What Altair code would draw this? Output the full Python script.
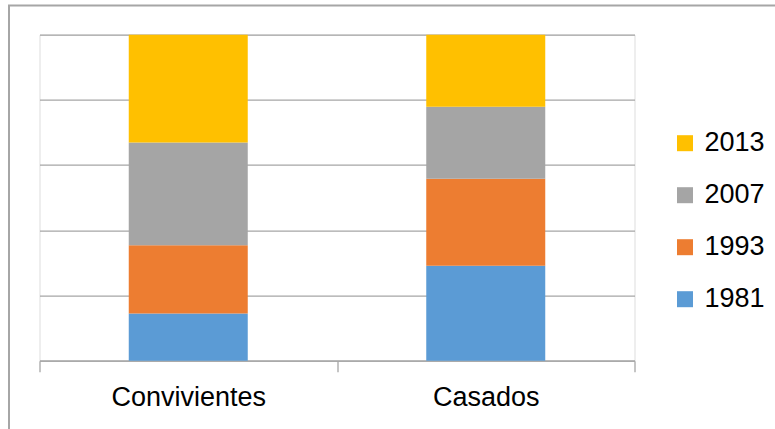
import altair as alt
import pandas as pd

categories = ["Convivientes", "Casados"]
years = ["1981", "1993", "2007", "2013"]
convivientes = [14.5, 20.9, 31.5, 33.1]
casados = [29.1, 26.7, 22.1, 22.1]
colors = {"2013": "#FFC000", "2007": "#A5A5A5", "1993": "#ED7D31", "1981": "#5B9BD5"}

rows = []
for cat, vals in zip(categories, [convivientes, casados]):
    for i, (yr, v) in enumerate(zip(years, vals)):
        rows.append({"grupo": cat, "anio": yr, "valor": v, "orden": i})
df = pd.DataFrame(rows)

legend_order = ["2013", "2007", "1993", "1981"]
FONT = "Liberation Sans"

bars = alt.Chart(df).mark_bar(width=alt.RelativeBandSize(0.4)).encode(
    x=alt.X("grupo:N", sort=categories, title=None,
            scale=alt.Scale(paddingInner=0, paddingOuter=0),
            axis=alt.Axis(tickBand="extent", labelAngle=0, labelFont=FONT,
                          labelFontSize=27, labelColor="#000000",
                          domainColor="#a6a6a6", domainWidth=1.3,
                          tickColor="#a6a6a6", tickWidth=1.3, tickSize=11,
                          labelPadding=13, grid=False)),
    y=alt.Y("valor:Q", stack="normalize", title=None,
            scale=alt.Scale(domain=[0, 1], nice=False),
            axis=alt.Axis(values=[0, 0.2, 0.4, 0.6, 0.8, 1.0], labels=False,
                          ticks=False, domain=False, grid=True,
                          gridColor="#a6a6a6", gridWidth=1.3)),
    color=alt.Color("anio:N",
                    scale=alt.Scale(domain=legend_order,
                                    range=[colors[y] for y in legend_order]),
                    legend=alt.Legend(title=None, orient="none",
                                      legendX=632, legendY=95,
                                      symbolType="square", symbolSize=256,
                                      symbolStrokeWidth=0,
                                      labelFont=FONT, labelFontSize=27,
                                      labelColor="#000000", labelOffset=6,
                                      rowPadding=24)),
    order=alt.Order("orden:Q", sort="ascending"),
)

frame = alt.Chart(alt.Data(values=[{}])).mark_rect(
    fillOpacity=0, stroke="#a6a6a6", strokeWidth=2
).encode(
    x=alt.value(-30.5), x2=alt.value(900),
    y=alt.value(-29.2), y2=alt.value(600),
)

chart = alt.layer(frame, bars).properties(
    width=595, height=326,
    autosize=alt.AutoSizeParams(type="none"),
    padding={"left": 39.5, "top": 34.7, "right": 140.5, "bottom": 68.3},
).configure_view(stroke="transparent", strokeWidth=0).configure(background="white")

chart.save("out.html", embed_options={"renderer": "svg", "actions": False})
